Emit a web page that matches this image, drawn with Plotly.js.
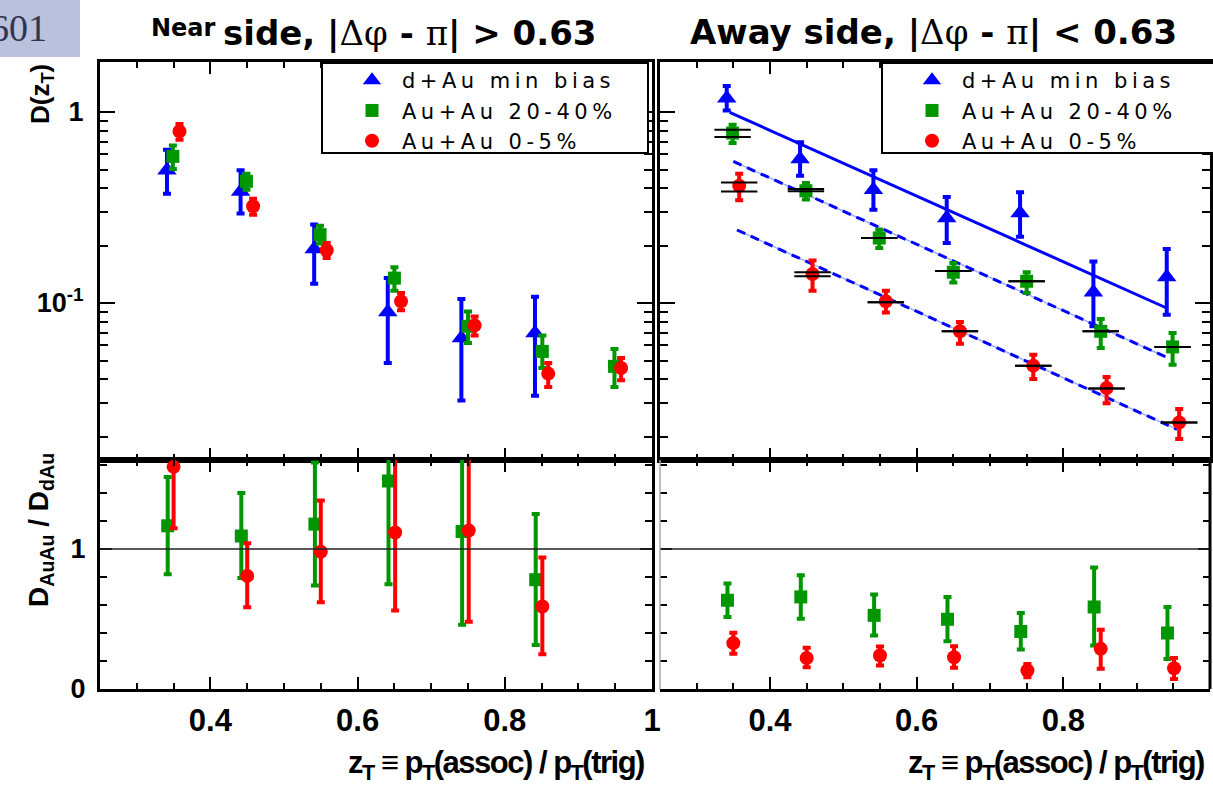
<!DOCTYPE html>
<html>
<head>
<meta charset="utf-8">
<script src="https://cdn.plot.ly/plotly-3.0.1.min.js"></script>
<style>html,body{margin:0;padding:0;background:#fff;}#chart{width:1213px;height:790px;}</style>
</head>
<body>
<div id="chart"></div>
<script>
// ---------------- DATA ----------------
const seriesNames = ["d+Au min bias", "Au+Au 20-40%", "Au+Au 0-5%"];
const xTickVals = [0.4, 0.6, 0.8, 1.0];
const xTickText = ["0.4", "0.6", "0.8", "1"];

// zT positions (points are slightly shifted per series)
const zBlue  = [0.341, 0.441, 0.541, 0.641, 0.741, 0.841, 0.941];
const zGreen = [0.349, 0.449, 0.549, 0.650, 0.750, 0.851, 0.949];
const zRed   = [0.358, 0.458, 0.558, 0.659, 0.759, 0.859, 0.958];

// Near side D(zT)
const nearDAu     = [0.495, 0.384, 0.192, 0.0897, 0.0656, 0.0697];
const nearDAuHi   = [0.635, 0.495, 0.258, 0.135, 0.105, 0.108];
const nearDAuLo   = [0.373, 0.294, 0.126, 0.0485, 0.0309, 0.0327];
const nearMid     = [0.586, 0.434, 0.228, 0.135, 0.0755, 0.0558, 0.0466];
const nearMidHi   = [0.667, 0.475, 0.254, 0.154, 0.0904, 0.0675, 0.0574];
const nearMidLo   = [0.503, 0.392, 0.205, 0.116, 0.0618, 0.0457, 0.0363];
const nearCen     = [0.792, 0.321, 0.189, 0.102, 0.0764, 0.0427, 0.0457];
const nearCenHi   = [0.865, 0.351, 0.206, 0.113, 0.0851, 0.0485, 0.0515];
const nearCenLo   = [0.717, 0.290, 0.172, 0.0916, 0.0675, 0.0363, 0.0394];

// Away side D(zT)
const awayDAu     = [1.18, 0.567, 0.392, 0.279, 0.296, 0.114, 0.137];
const awayDAuHi   = [1.37, 0.694, 0.495, 0.359, 0.380, 0.165, 0.192];
const awayDAuLo   = [1.02, 0.464, 0.308, 0.206, 0.222, 0.0755, 0.0869];
const awayMid     = [0.776, 0.387, 0.219, 0.145, 0.130, 0.0711, 0.0589];
const awayMidHi   = [0.859, 0.425, 0.242, 0.162, 0.145, 0.0824, 0.0697];
const awayMidLo   = [0.688, 0.348, 0.194, 0.128, 0.113, 0.0581, 0.0475];
const awayCen     = [0.411, 0.142, 0.102, 0.0711, 0.047, 0.0359, 0.0237];
const awayCenHi   = [0.475, 0.167, 0.116, 0.0795, 0.0536, 0.041, 0.0279];
const awayCenLo   = [0.345, 0.116, 0.0893, 0.0612, 0.040, 0.0299, 0.0194];
// systematic brackets (black horizontal bars)
const awayMidSysHi = [0.808, 0.395, 0.219, 0.147, 0.130, 0.0711, 0.0589];
const awayMidSysLo = [0.740, 0.385, 0.219, 0.147, 0.130, 0.0711, 0.0589];
const awayCenSysHi = [0.428, 0.145, 0.101, 0.0711, 0.047, 0.0357, 0.0237];
const awayCenSysLo = [0.384, 0.138, 0.101, 0.0711, 0.047, 0.0357, 0.0237];

// Exponential fits on away side: D = 10^(a + s*zT)
const fitA     = [0.592, 0.349, 0.000];
const fitS     = [-1.72, -1.736, -1.74];
const fitZmin  = [0.345, 0.350, 0.355];
const fitZmax  = [0.940, 0.940, 0.955];

// Ratios D_AuAu / D_dAu
const zRatioG = [0.342, 0.442, 0.542, 0.642, 0.742, 0.842, 0.942];
const zRatioR = [0.350, 0.450, 0.550, 0.651, 0.751, 0.851, 0.951];
const nearRMid   = [1.166, 1.093, 1.178, 1.486, 1.125, 0.781];
const nearRMidHi = [1.514, 1.400, 1.618, 2.22, 1.79, 1.25];
const nearRMidLo = [0.820, 0.793, 0.740, 0.748, 0.459, 0.315];
const nearRCen   = [1.587, 0.808, 0.981, 1.118, 1.132, 0.589];
const nearRCenHi = [2.02, 1.041, 1.346, 1.68, 1.78, 0.94];
const nearRCenLo = [1.149, 0.584, 0.620, 0.560, 0.481, 0.248];
const awayRMid   = [0.634, 0.658, 0.526, 0.498, 0.411, 0.586, 0.400];
const awayRMidHi = [0.754, 0.813, 0.675, 0.658, 0.543, 0.868, 0.586];
const awayRMidLo = [0.514, 0.502, 0.383, 0.342, 0.282, 0.311, 0.215];
const awayRCen   = [0.328, 0.222, 0.239, 0.227, 0.132, 0.287, 0.148];
const awayRCenHi = [0.402, 0.294, 0.304, 0.306, 0.179, 0.423, 0.222];
const awayRCenLo = [0.251, 0.156, 0.167, 0.151, 0.084, 0.144, 0.072];

// ---------------- STYLE ----------------
const BLUE = '#0000ff', GREEN = '#009600', RED = '#ff0000';
const W = 1213, H = 790;
const px = v => v / W, py = v => 1 - v / H;
const wide = s => '<span style="letter-spacing:4.5px">' + s + '</span>';
const greek = s => '<span style="font-family:DejaVu Serif, serif;font-weight:normal">' + s + '</span>';

function errTrace(x, y, hi, lo, color, symbol, size, xa, ya, name, legend, showleg) {
  const n = y.length;
  return {
    x: x.slice(0, n), y: y, xaxis: xa, yaxis: ya, type: 'scatter', mode: 'markers',
    name: wide(name), legend: legend, showlegend: showleg,
    marker: {color: color, symbol: symbol, size: size, line: {width: 0}},
    error_y: {type: 'data', symmetric: false,
      array: y.map((v, i) => hi[i] - v), arrayminus: y.map((v, i) => v - lo[i]),
      color: color, thickness: 4, width: 4}
  };
}
function sysTrace(x, vals, xa, ya) {
  return {x: x.slice(0, vals.length), y: vals, xaxis: xa, yaxis: ya, type: 'scatter', mode: 'markers',
    showlegend: false, hoverinfo: 'skip',
    marker: {symbol: 'line-ew', size: 26, color: 'black', line: {color: 'black', width: 2}}};
}
function fitTrace(i, dashed) {
  const xs = [fitZmin[i], fitZmax[i]];
  const ys = xs.map(z => Math.pow(10, fitA[i] + fitS[i] * z));
  const out = [];
  if (dashed) out.push({x: xs, y: ys, xaxis: 'x2', yaxis: 'y2', mode: 'lines', showlegend: false,
    hoverinfo: 'skip', line: {color: '#9fb0ff', width: 1.5}});
  out.push({x: xs, y: ys, xaxis: 'x2', yaxis: 'y2', mode: 'lines', showlegend: false, hoverinfo: 'skip',
    line: {color: BLUE, width: 3, dash: dashed ? '9px,6px' : 'solid'}});
  return out;
}

const traces = [
  errTrace(zBlue, nearDAu, nearDAuHi, nearDAuLo, BLUE, 'triangle-up', 17, 'x', 'y', seriesNames[0], 'legend', true),
  errTrace(zGreen, nearMid, nearMidHi, nearMidLo, GREEN, 'square', 13, 'x', 'y', seriesNames[1], 'legend', true),
  errTrace(zRed, nearCen, nearCenHi, nearCenLo, RED, 'circle', 14, 'x', 'y', seriesNames[2], 'legend', true),
  ...fitTrace(0, false), ...fitTrace(1, true), ...fitTrace(2, true),
  errTrace(zBlue, awayDAu, awayDAuHi, awayDAuLo, BLUE, 'triangle-up', 17, 'x2', 'y2', seriesNames[0], 'legend2', true),
  errTrace(zGreen, awayMid, awayMidHi, awayMidLo, GREEN, 'square', 13, 'x2', 'y2', seriesNames[1], 'legend2', true),
  errTrace(zRed, awayCen, awayCenHi, awayCenLo, RED, 'circle', 14, 'x2', 'y2', seriesNames[2], 'legend2', true),
  sysTrace(zGreen, awayMidSysHi, 'x2', 'y2'), sysTrace(zGreen, awayMidSysLo, 'x2', 'y2'),
  sysTrace(zRed, awayCenSysHi, 'x2', 'y2'), sysTrace(zRed, awayCenSysLo, 'x2', 'y2'),
  errTrace(zRatioG, nearRMid, nearRMidHi, nearRMidLo, GREEN, 'square', 13, 'x3', 'y3', seriesNames[1], 'legend', false),
  errTrace(zRatioR, nearRCen, nearRCenHi, nearRCenLo, RED, 'circle', 14, 'x3', 'y3', seriesNames[2], 'legend', false),
  errTrace(zRatioG, awayRMid, awayRMidHi, awayRMidLo, GREEN, 'square', 13, 'x4', 'y4', seriesNames[1], 'legend', false),
  errTrace(zRatioR, awayRCen, awayRCenHi, awayRCenLo, RED, 'circle', 14, 'x4', 'y4', seriesNames[2], 'legend', false)
];

const tickFont = {family: 'Liberation Sans, Arial, sans-serif', size: 31, color: 'black', weight: 700};
function xAx(dom, anchor, labels) {
  return {domain: dom, anchor: anchor, range: [0.25, 1.0], showgrid: false, zeroline: false,
    showline: true, linecolor: 'black', linewidth: 3, mirror: 'ticks',
    ticks: 'inside', ticklen: 12, tickwidth: 2, tickcolor: 'black',
    tickmode: 'array', tickvals: xTickVals, ticktext: xTickText, showticklabels: labels,
    tickfont: tickFont, ticklabelstandoff: 2,
    minor: {ticks: 'inside', dtick: 0.05, tick0: 0, ticklen: 6, tickwidth: 2, tickcolor: 'black'}};
}
const logMinor = [0.02,0.03,0.04,0.05,0.06,0.07,0.08,0.09,0.2,0.3,0.4,0.5,0.6,0.7,0.8,0.9];
function yLog(dom, anchor, labels) {
  return {domain: dom, anchor: anchor, type: 'log', range: [-1.822, 0.262], showgrid: false, zeroline: false,
    showline: true, linecolor: 'black', linewidth: 3, mirror: 'ticks',
    ticks: 'inside', ticklen: 15, tickwidth: 2, tickcolor: 'black',
    tickmode: 'array', tickvals: [0.1, 1], ticktext: ['10<sup>-1</sup>', '1'], showticklabels: labels,
    tickfont: {family: 'Liberation Sans, Arial, sans-serif', size: 27, color: 'black', weight: 700},
    ticklabelstandoff: 8,
    minor: {ticks: 'inside', tickmode: 'array', tickvals: logMinor, ticklen: 8, tickwidth: 2, tickcolor: 'black'}};
}
function yRat(dom, anchor, labels, line) {
  return {domain: dom, anchor: anchor, range: [0, 1.636], showgrid: false, zeroline: false,
    showline: line, linecolor: 'black', linewidth: 3, mirror: 'ticks',
    ticks: 'inside', ticklen: 12, tickwidth: 2, tickcolor: 'black',
    tickmode: 'array', tickvals: [0, 1], ticktext: ['0', '1'], showticklabels: labels,
    tickfont: {family: 'Liberation Sans, Arial, sans-serif', size: 27, color: 'black', weight: 700},
    ticklabelstandoff: 6,
    minor: {ticks: 'inside', dtick: 0.2, tick0: 0, ticklen: 7, tickwidth: 2, tickcolor: 'black'}};
}

const domL = [px(100), px(652)], domR = [px(660), px(1210)];
const domTop = [py(460), py(62)], domBot = [py(689), py(460)];

const legendBase = {yanchor: 'top', xanchor: 'left', y: py(60), bgcolor: 'rgba(0,0,0,0)',
  borderwidth: 0, font: {family: 'DejaVu Sans, sans-serif', size: 21, color: 'black'},
  tracegroupgap: 0, itemwidth: 50, itemclick: false};

const xtitle = '<span style="letter-spacing:-1.5px">z<sub>T</sub> ≡ p<sub>T</sub>(assoc) / p<sub>T</sub>(trig)</span>';
const titleFont = {family: 'DejaVu Sans, sans-serif', size: 34, color: 'black', weight: 700};

const layout = {
  width: W, height: H, margin: {l: 0, r: 0, t: 0, b: 0}, paper_bgcolor: 'white', plot_bgcolor: 'white',
  showlegend: true,
  legend: Object.assign({}, legendBase, {x: px(342)}),
  legend2: Object.assign({}, legendBase, {x: px(902)}),
  xaxis: xAx(domL, 'y', false), yaxis: yLog(domTop, 'x', true),
  xaxis2: xAx(domR, 'y2', false), yaxis2: yLog(domTop, 'x2', false),
  xaxis3: xAx(domL, 'y3', true), yaxis3: yRat(domBot, 'x3', true, true),
  xaxis4: xAx(domR, 'y4', true), yaxis4: yRat(domBot, 'x4', false, false),
  shapes: [
    {type: 'line', xref: 'x3 domain', x0: 0, x1: 1, yref: 'y3', y0: 1, y1: 1, line: {color: '#222', width: 1.5}},
    {type: 'line', xref: 'x4 domain', x0: 0, x1: 1, yref: 'y4', y0: 1, y1: 1, line: {color: '#222', width: 1.5}},
    {type: 'line', xref: 'x4 domain', x0: 0, x1: 0, yref: 'y4 domain', y0: 0, y1: 1, line: {color: '#aaa', width: 1.5}},
    {type: 'line', xref: 'x4 domain', x0: 1, x1: 1, yref: 'y4 domain', y0: 0, y1: 1, line: {color: 'black', width: 3}},
    {type: 'rect', xref: 'paper', yref: 'paper', x0: 0, x1: px(80), y0: py(57), y1: 1,
      fillcolor: '#b9c1dc', line: {width: 0}, layer: 'below'},
    // legend frames
    {type: 'rect', xref: 'paper', yref: 'paper', x0: px(322), x1: px(648), y0: py(153), y1: py(63),
      fillcolor: 'white', line: {color: 'black', width: 2}, layer: 'above'},
    {type: 'rect', xref: 'paper', yref: 'paper', x0: px(882), x1: px(1240), y0: py(153), y1: py(63),
      fillcolor: 'white', line: {color: 'black', width: 2}, layer: 'above'}
  ],
  annotations: [
    {text: '601', xref: 'paper', yref: 'paper', x: px(-12), y: py(28), xanchor: 'left', yanchor: 'middle',
      showarrow: false, font: {family: 'Liberation Serif, serif', size: 38, color: '#2e3650'}},
    {text: 'Near', xref: 'paper', yref: 'paper', x: px(149), y: py(28), xanchor: 'left', yanchor: 'middle',
      showarrow: false, font: {family: 'DejaVu Sans, sans-serif', size: 24, color: 'black', weight: 700}},
    {text: 'side, |' + greek('Δφ') + ' - ' + greek('π') + '| > 0.63', xref: 'paper', yref: 'paper', x: px(221), y: py(33),
      xanchor: 'left', yanchor: 'middle', showarrow: false, font: titleFont},
    {text: 'Away side, |' + greek('Δφ') + ' - ' + greek('π') + '| < 0.63', xref: 'paper', yref: 'paper', x: px(688), y: py(32),
      xanchor: 'left', yanchor: 'middle', showarrow: false, font: titleFont},
    {text: 'D(z<sub>T</sub>)', xref: 'paper', yref: 'paper', x: px(42), y: py(94), xanchor: 'center', yanchor: 'middle',
      textangle: -90, showarrow: false, font: {family: 'Liberation Sans, Arial, sans-serif', size: 26, color: 'black', weight: 700}},
    {text: 'D<sub>AuAu</sub> / D<sub>dAu</sub>', xref: 'paper', yref: 'paper', x: px(40), y: py(530), xanchor: 'center', yanchor: 'middle',
      textangle: -90, showarrow: false, font: {family: 'Liberation Sans, Arial, sans-serif', size: 28, color: 'black', weight: 700}},
    {text: xtitle, xref: 'paper', yref: 'paper', x: px(646), y: py(765),
      xanchor: 'right', yanchor: 'middle', showarrow: false,
      font: {family: 'Liberation Sans, Arial, sans-serif', size: 31, color: 'black', weight: 700}},
    {text: xtitle, xref: 'paper', yref: 'paper', x: px(1206), y: py(765),
      xanchor: 'right', yanchor: 'middle', showarrow: false,
      font: {family: 'Liberation Sans, Arial, sans-serif', size: 31, color: 'black', weight: 700}}
  ]
};

Plotly.newPlot('chart', traces, layout, {displayModeBar: false, staticPlot: true});
</script>
</body>
</html>
